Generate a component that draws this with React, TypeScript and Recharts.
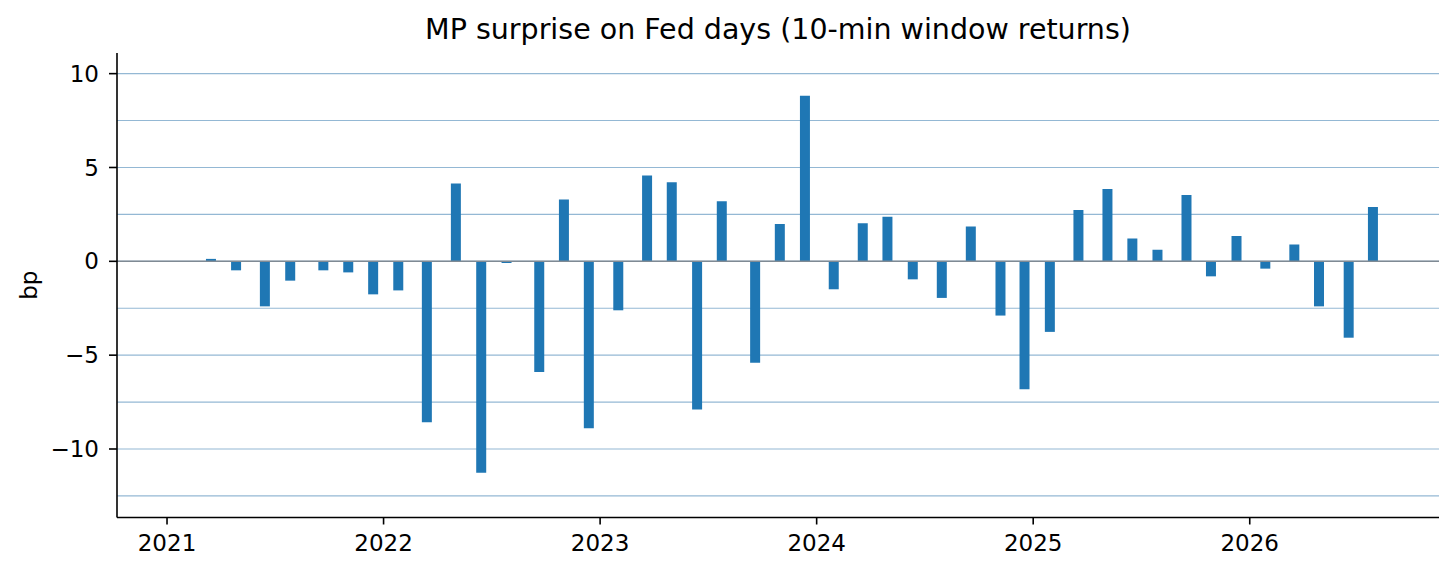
import React from "react";
import { BarChart, Bar, XAxis, YAxis, CartesianGrid, ReferenceLine } from "recharts";

// Fed meeting dates as decimal years
const dates = [
  2021.203, 2021.319, 2021.452, 2021.569, 2021.722, 2021.837, 2021.952,
  2022.068, 2022.2, 2022.334, 2022.451, 2022.568, 2022.719, 2022.833, 2022.948,
  2023.084, 2023.217, 2023.331, 2023.448, 2023.562, 2023.716, 2023.83, 2023.946,
  2024.079, 2024.213, 2024.327, 2024.444, 2024.578, 2024.712, 2024.849, 2024.96,
  2025.077, 2025.209, 2025.343, 2025.458, 2025.574, 2025.708, 2025.821, 2025.939,
  2026.072, 2026.206, 2026.32, 2026.457, 2026.569,
];

// MP surprise, basis points
const surprise = [
  0.13, -0.48, -2.4, -1.03, -0.48, -0.59, -1.76,
  -1.55, -8.58, 4.14, -11.26, -0.09, -5.9, 3.29, -8.9,
  -2.61, 4.57, 4.21, -7.9, 3.2, -5.4, 1.99, 8.82,
  -1.49, 2.03, 2.38, -0.96, -1.95, 1.85, -2.89, -6.82,
  -3.76, 2.74, 3.86, 1.21, 0.62, 3.54, -0.8, 1.35,
  -0.39, 0.89, -2.4, -4.07, 2.9,
];

const xTicks = [2021, 2022, 2023, 2024, 2025, 2026];
const yTicks = [-10, -5, 0, 5, 10];
const gridValues = [-12.5, -10, -7.5, -5, -2.5, 0, 2.5, 5, 7.5, 10];

const xDomain = [2020.769, 2026.874];
const yDomain = [-13.65, 11.1];

const data = dates.map((t, i) => ({ t, v: surprise[i] }));

const FONT = "'DejaVu Sans', Verdana, sans-serif";

const fmtY = (v: number) => (v < 0 ? "\u2212" + Math.abs(v) : String(v));

const YLabel = (props: any) => {
  const vb = props.viewBox || { x: 0, y: 53, width: 117, height: 464 };
  const x = vb.x + 36.5;
  const y = vb.y + vb.height / 2;
  return (
    <text
      x={x}
      y={y}
      transform={`rotate(-90 ${x} ${y})`}
      textAnchor="middle"
      fontSize={23}
      fontFamily={FONT}
      fill="#000"
    >
      bp
    </text>
  );
};

export default function App() {
  return (
    <div style={{ position: "absolute", left: 0, top: 0, width: 1456, height: 575, background: "#fff" }}>
      <svg
        width={1456}
        height={60}
        style={{ position: "absolute", left: 0, top: 0, pointerEvents: "none" }}
      >
        <text x={778} y={39} textAnchor="middle" fontSize={28.5} fontFamily={FONT} fill="#000">
          MP surprise on Fed days (10-min window returns)
        </text>
      </svg>
      <BarChart
        width={1456}
        height={575}
        data={data}
        margin={{ top: 53, right: 17, bottom: 0, left: 0 }}
      >
        <CartesianGrid
          vertical={false}
          horizontalValues={gridValues}
          stroke="#94b8d4"
          strokeWidth={1.1}
        />
        <XAxis
          dataKey="t"
          type="number"
          domain={xDomain}
          allowDataOverflow
          ticks={xTicks}
          tickFormatter={(v: number) => String(v)}
          height={57.5}
          tickSize={7}
          tickMargin={10}
          axisLine={{ stroke: "#000", strokeWidth: 1.6 }}
          tickLine={{ stroke: "#000", strokeWidth: 1.6 }}
          tick={{ fontSize: 23, fontFamily: FONT, fill: "#000" }}
          interval={0}
        />
        <YAxis
          type="number"
          domain={yDomain}
          allowDataOverflow
          ticks={yTicks}
          tickFormatter={fmtY}
          width={117}
          tickSize={8}
          tickMargin={10}
          axisLine={{ stroke: "#000", strokeWidth: 1.6 }}
          tickLine={{ stroke: "#000", strokeWidth: 1.6 }}
          tick={{ fontSize: 23, fontFamily: FONT, fill: "#000" }}
          interval={0}
          label={<YLabel />}
        />
        <Bar dataKey="v" fill="#1f77b4" barSize={10} isAnimationActive={false} />
        <ReferenceLine y={0} stroke="#7f8a94" strokeWidth={1.6} />
      </BarChart>
    </div>
  );
}
